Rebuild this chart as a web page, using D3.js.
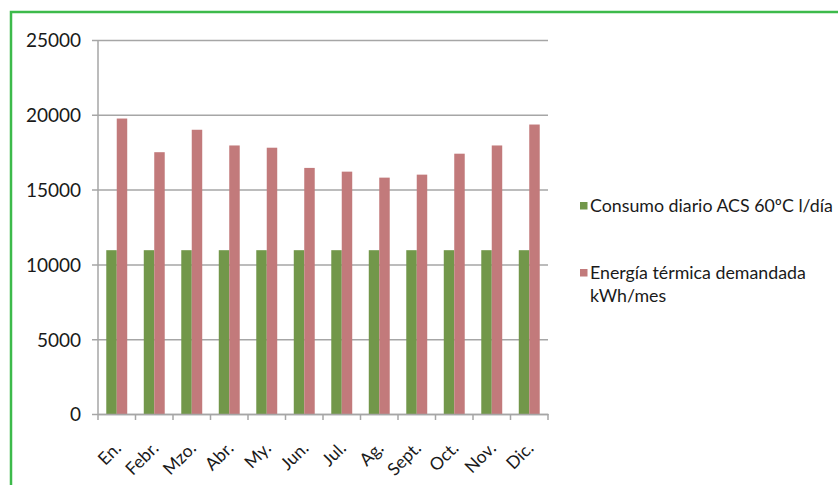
<!DOCTYPE html>
<html lang="es">
<head>
<meta charset="UTF-8">
<title>Consumo ACS y energía térmica</title>
<script src="https://cdn.jsdelivr.net/npm/d3@7"></script>
<style>
  body { margin: 0; background: #fff; }
  text { font-family: Lato, "Liberation Sans", sans-serif; fill: #1a1a1a; }
</style>
</head>
<body>
<div id="chart"></div>
<script>
// data
const months = ["En.", "Febr.", "Mzo.", "Abr.", "My.", "Jun.", "Jul.", "Ag.", "Sept.", "Oct.", "Nov.", "Dic."];
const consumo = [10950, 10950, 10950, 10950, 10950, 10950, 10950, 10950, 10950, 10950, 10950, 10950];
const energia = [19750, 17500, 19000, 17950, 17800, 16450, 16200, 15800, 16000, 17400, 17950, 19350];
const yTicks = [0, 5000, 10000, 15000, 20000, 25000];
const seriesNames = ["Consumo diario ACS 60ºC l/día", "Energía térmica demandada", "kWh/mes"];
const colors = ["#72974a", "#c27a7b"];

const w = 838, h = 485;
const plot = {left: 98, right: 548, top: 40, bottom: 414};

const svg = d3.select("#chart").append("svg")
    .attr("width", w)
    .attr("height", h);

// green frame
svg.append("path")
    .attr("d", "M11," + h + " V12 H" + w)
    .attr("fill", "none")
    .attr("stroke", "#3dba4b")
    .attr("stroke-width", 2.5);

const x = d3.scaleBand()
    .domain(months)
    .range([plot.left, plot.right]);

// two bars side by side inside each month
const inner = d3.scaleBand()
    .domain([0, 1])
    .range([0, x.bandwidth()])
    .paddingInner(0)
    .paddingOuter(0.79);

const y = d3.scaleLinear()
    .domain([0, 25000])
    .range([plot.bottom, plot.top]);

// gridlines + y labels
const yAxis = d3.axisLeft(y)
    .tickValues(yTicks)
    .tickSize(-(plot.right - plot.left))
    .tickFormat(d3.format("d"));

svg.append("g")
    .attr("transform", "translate(" + plot.left + ",0)")
    .call(yAxis)
    .call(g => g.select(".domain").remove())
    .call(g => g.selectAll(".tick line")
        .attr("x1", -6)
        .attr("stroke", "#a6a6a6")
        .attr("stroke-width", 1.5))
    .call(g => g.selectAll(".tick text")
        .attr("x", -17)
        .attr("dy", "0.36em")
        .style("font-size", "19px"));

// y axis line
svg.append("line")
    .attr("x1", plot.left).attr("x2", plot.left)
    .attr("y1", plot.top).attr("y2", plot.bottom)
    .attr("stroke", "#a6a6a6")
    .attr("stroke-width", 1.5);

// bars
const series = [consumo, energia];
series.forEach(function(vals, s) {
  svg.append("g")
    .selectAll("rect")
    .data(vals)
    .enter()
    .append("rect")
      .attr("x", (d, i) => x(months[i]) + inner(s))
      .attr("width", inner.bandwidth())
      .attr("y", d => y(d))
      .attr("height", d => y(0) - y(d))
      .attr("fill", colors[s]);
});

// x axis
const xAxis = d3.axisBottom(x).tickSize(0).tickFormat("");
svg.append("g")
    .attr("transform", "translate(0," + plot.bottom + ")")
    .call(xAxis)
    .call(g => g.select(".domain").attr("stroke", "#a6a6a6").attr("stroke-width", 1.5));

// category boundary ticks
svg.append("g")
  .selectAll("line")
  .data(months.concat(["end"]))
  .enter()
  .append("line")
    .attr("x1", (d, i) => plot.left + i * x.step())
    .attr("x2", (d, i) => plot.left + i * x.step())
    .attr("y1", plot.bottom)
    .attr("y2", plot.bottom + 6)
    .attr("stroke", "#a6a6a6")
    .attr("stroke-width", 1.5);

// rotated month labels
svg.append("g")
  .selectAll("text")
  .data(months)
  .enter()
  .append("text")
    .attr("transform", d => "translate(" + (x(d) + x.bandwidth() / 2 + 1) + "," + (plot.bottom + 31) + ") rotate(-45)")
    .attr("text-anchor", "end")
    .attr("dy", "0.35em")
    .style("font-size", "17.5px")
    .text(d => d);

// legend
const legend = svg.append("g");
const leg1 = legend.append("g").attr("transform", "translate(580,202)");
leg1.append("rect").attr("width", 7.5).attr("height", 7.5).attr("fill", colors[0]);
leg1.append("text").attr("x", 10).attr("y", 4).attr("dy", "0.36em")
    .style("font-size", "17.8px").text(seriesNames[0]);

const leg2 = legend.append("g").attr("transform", "translate(580,269)");
leg2.append("rect").attr("width", 7.5).attr("height", 7.5).attr("fill", colors[1]);
leg2.append("text").attr("x", 10).attr("y", 4).attr("dy", "0.36em")
    .style("font-size", "17.8px").text(seriesNames[1]);
leg2.append("text").attr("x", 10).attr("y", 27).attr("dy", "0.36em")
    .style("font-size", "17.8px").text(seriesNames[2]);
</script>
</body>
</html>
